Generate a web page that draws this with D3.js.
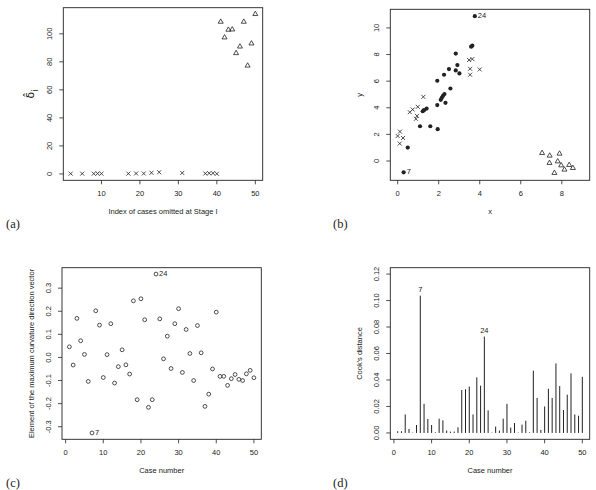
<!DOCTYPE html>
<html>
<head>
<meta charset="utf-8">
<script src="https://cdn.jsdelivr.net/npm/d3@7"></script>
<style>
  body { margin: 0; background: #fff; }
  text { font-family: "Liberation Sans", Arial, sans-serif; fill: #222; }
  .letter { font-family: "Liberation Serif", "DejaVu Serif", serif; font-size: 12.5px; }
</style>
</head>
<body>
<svg width="596" height="490"></svg>
<script>
// (a) delta_i by index of omitted case
const aCrossX = [2, 5, 8, 9, 10, 17, 19, 21, 23, 25, 31, 37, 38, 39, 40];
const aCrossY = [0.2, 0.2, 0.2, 0.3, 0.2, 0.2, 0.3, 0.3, 0.8, 1.2, 0.7, 0.3, 0.5, 0.5, 0.1];
const aTriX = [41, 42, 43, 44, 45, 46, 47, 48, 49, 50];
const aTriY = [108.6, 97.4, 102.9, 103.1, 86.2, 90.9, 108.6, 77.3, 93.1, 114.1];
const aTicksX = [10, 20, 30, 40, 50];
const aTicksY = [0, 20, 40, 60, 80, 100];

// (b) the data, three groups
const bDotX = [3.76, 3.64, 3.58, 2.83, 2.91, 2.83, 3.01, 2.50, 2.26, 1.93, 2.57, 2.28, 2.21, 2.15, 2.10, 2.33, 1.93, 1.41, 1.28, 1.22, 1.09, 1.59, 1.95, 0.49, 0.29];
const bDotY = [10.88, 8.67, 8.59, 8.07, 7.21, 6.81, 6.58, 6.91, 6.48, 6.03, 5.45, 5.03, 4.90, 4.75, 4.60, 4.37, 4.20, 3.94, 3.82, 3.74, 2.61, 2.61, 2.39, 1.01, -0.85];
const bLabelText = ["24", "7"];
const bLabelIdx = [0, 24];
const bCrossX = [3.48, 3.64, 3.53, 4.00, 3.53, 1.25, 0.98, 0.73, 0.59, 0.94, 0.89, 0.11, 0.00, 0.26, 0.10];
const bCrossY = [7.59, 7.66, 6.93, 6.88, 6.48, 4.82, 4.07, 3.87, 3.67, 3.39, 3.17, 2.21, 1.88, 1.73, 1.31];
const bTriX = [7.04, 7.41, 7.89, 7.40, 7.80, 7.97, 8.36, 8.13, 8.54, 7.64];
const bTriY = [0.60, 0.40, 0.55, -0.15, -0.03, -0.33, -0.30, -0.65, -0.53, -0.90];
const bTicksX = [0, 2, 4, 6, 8];
const bTicksY = [0, 2, 4, 6, 8, 10];

// (c) max curvature direction, cases 1..50
const curvature = [0.046, -0.033, 0.169, 0.072, 0.013, -0.104, -0.327, 0.202, 0.140, -0.087,
  0.012, 0.146, -0.111, -0.040, 0.033, -0.032, -0.072, 0.245, -0.183, 0.254,
  0.163, -0.216, -0.183, 0.361, 0.167, -0.006, 0.092, -0.048, 0.146, 0.211,
  -0.065, 0.121, 0.017, -0.100, 0.138, 0.020, -0.212, -0.159, -0.050, 0.196,
  -0.082, -0.082, -0.121, -0.092, -0.074, -0.095, -0.100, -0.071, -0.056, -0.088];
const cTicksX = [0, 10, 20, 30, 40, 50];
const cTicksY = [-0.3, -0.2, -0.1, 0, 0.1, 0.2, 0.3];

// (d) Cook's distance, cases 1..50
const cooks = [0.0013, 0.0013, 0.014, 0.003, 0.0003, 0.006, 0.1037, 0.022, 0.0105, 0.006,
  0.0005, 0.0108, 0.0095, 0.0018, 0.001, 0.001, 0.0043, 0.0324, 0.033, 0.035,
  0.014, 0.042, 0.0357, 0.0728, 0.017, 0.0003, 0.0048, 0.0018, 0.0108, 0.022,
  0.004, 0.0075, 0.0003, 0.0063, 0.0093, 0.0005, 0.047, 0.0264, 0.0023, 0.020,
  0.0334, 0.0264, 0.0525, 0.0354, 0.0173, 0.0289, 0.045, 0.014, 0.013, 0.0424];
const dTicksX = [0, 10, 20, 30, 40, 50];
const dTicksY = [0, 0.02, 0.04, 0.06, 0.08, 0.10, 0.12];
const labelCases = [7, 24];

const svg = d3.select("svg");
const ink = "#222";

// R-style limits: 4% extra on each side
function pad(lo, hi) {
  const e = (hi - lo) * 0.04;
  return [lo - e, hi + e];
}

// one panel: box, ticks, tick labels
function panel(box, xDom, yDom, xTicks, yTicks, fx, fy) {
  const x = d3.scaleLinear().domain(xDom).range([box.l, box.r]);
  const y = d3.scaleLinear().domain(yDom).range([box.b, box.t]);
  const g = svg.append("g");

  g.append("rect")
    .attr("x", box.l).attr("y", box.t)
    .attr("width", box.r - box.l).attr("height", box.b - box.t)
    .attr("fill", "none").attr("stroke", ink).attr("stroke-width", 0.9);

  g.selectAll(".xt").data(xTicks).join("line")
    .attr("x1", d => x(d)).attr("x2", d => x(d))
    .attr("y1", box.b).attr("y2", box.b + 4)
    .attr("stroke", ink).attr("stroke-width", 0.8);
  g.selectAll(".xl").data(xTicks).join("text")
    .attr("x", d => x(d)).attr("y", box.b + 14)
    .attr("text-anchor", "middle").attr("dominant-baseline", "middle")
    .style("font-size", "7.5px")
    .text(fx);

  g.selectAll(".yt").data(yTicks).join("line")
    .attr("x1", box.l - 4).attr("x2", box.l)
    .attr("y1", d => y(d)).attr("y2", d => y(d))
    .attr("stroke", ink).attr("stroke-width", 0.8);
  g.selectAll(".yl").data(yTicks).join("text")
    .attr("transform", d => `translate(${box.l - 13},${y(d)}) rotate(-90)`)
    .attr("text-anchor", "middle").attr("dominant-baseline", "middle")
    .style("font-size", "7.5px")
    .text(fy);

  return { g, x, y };
}

function xLabel(box, txt) {
  svg.append("text")
    .attr("x", (box.l + box.r) / 2).attr("y", box.b + 32)
    .attr("text-anchor", "middle").attr("dominant-baseline", "middle")
    .style("font-size", "7.5px").text(txt);
}
function yLabel(box, txt) {
  return svg.append("text")
    .attr("transform", `translate(${box.l - 30},${(box.t + box.b) / 2}) rotate(-90)`)
    .attr("text-anchor", "middle").attr("dominant-baseline", "middle")
    .style("font-size", "7.5px").text(txt);
}
function letter(x, y, txt) {
  svg.append("text").attr("class", "letter").attr("x", x).attr("y", y).text(txt);
}

// markers
const crossPath = "M-2,-2L2,2M-2,2L2,-2";
const triPath = "M0,-2.9L2.5,1.45L-2.5,1.45Z";

function marks(p, xs, ys, path) {
  p.g.selectAll(null).data(xs).join("path")
    .attr("transform", (d, i) => `translate(${p.x(d)},${p.y(ys[i])})`)
    .attr("d", path)
    .attr("fill", "none").attr("stroke", ink).attr("stroke-width", 0.8);
}

// ---- (a)
const boxA = { l: 63.3, r: 262.7, t: 7.7, b: 180.3 };
const pa = panel(boxA, pad(2, 50), pad(0, 114.1), aTicksX, aTicksY, d => d, d => d);
marks(pa, aCrossX, aCrossY, crossPath);
marks(pa, aTriX, aTriY, triPath);
xLabel(boxA, "Index of cases omitted at Stage I");
const da = svg.append("text")
  .attr("transform", `translate(${boxA.l - 32},${(boxA.t + boxA.b) / 2}) rotate(-90)`)
  .attr("text-anchor", "middle").attr("dominant-baseline", "middle")
  .style("font-family", "DejaVu Sans").style("font-size", "11px");
da.append("tspan").text("\u03B4\u0302");
da.append("tspan").attr("baseline-shift", "sub").style("font-size", "8px").text("i");
letter(6, 228, "(a)");

// ---- (b)
const boxB = { l: 390.3, r: 589.7, t: 9.3, b: 180.3 };
const pb = panel(boxB, pad(0, 9), [-1.45, 11.4], bTicksX, bTicksY, d => d, d => d);
pb.g.selectAll(null).data(bDotX).join("circle")
  .attr("cx", d => pb.x(d)).attr("cy", (d, i) => pb.y(bDotY[i]))
  .attr("r", 2.1).attr("fill", ink);
marks(pb, bCrossX, bCrossY, crossPath);
marks(pb, bTriX, bTriY, triPath);
pb.g.selectAll(null).data(bLabelIdx).join("text")
  .attr("x", d => pb.x(bDotX[d]) + 3).attr("y", d => pb.y(bDotY[d]))
  .attr("dominant-baseline", "middle").style("font-size", "7.5px")
  .text((d, i) => bLabelText[i]);
xLabel(boxB, "x");
yLabel(boxB, "y");
letter(333, 228, "(b)");

// ---- (c)
const cases = d3.range(1, 51);
const boxC = { l: 62, r: 261.3, t: 267.7, b: 439.3 };
const pc = panel(boxC, pad(1, 50), pad(d3.min(curvature), d3.max(curvature)),
  cTicksX, cTicksY, d => d, d => d.toFixed(1));
pc.g.selectAll(null).data(curvature).join("circle")
  .attr("cx", (d, i) => pc.x(cases[i])).attr("cy", d => pc.y(d))
  .attr("r", 1.9).attr("fill", "none").attr("stroke", ink).attr("stroke-width", 0.8);
pc.g.selectAll(null).data(labelCases).join("text")
  .attr("x", d => pc.x(d) + 3).attr("y", d => pc.y(curvature[d - 1]))
  .attr("dominant-baseline", "middle").style("font-size", "7.5px")
  .text(d => d);
xLabel(boxC, "Case number");
yLabel(boxC, "Element of the maximum curvature direction vector");
letter(6, 487, "(c)");

// ---- (d)
const boxD = { l: 390.3, r: 589.7, t: 267.7, b: 439.3 };
const pd = panel(boxD, pad(1, 50), pad(0, 0.12), dTicksX, dTicksY, d => d, d => d.toFixed(2));
pd.g.selectAll(null).data(cooks).join("line")
  .attr("x1", (d, i) => pd.x(cases[i])).attr("x2", (d, i) => pd.x(cases[i]))
  .attr("y1", pd.y(0)).attr("y2", d => pd.y(d))
  .attr("stroke", ink).attr("stroke-width", 1);
pd.g.selectAll(null).data(labelCases).join("text")
  .attr("x", d => pd.x(d)).attr("y", d => pd.y(cooks[d - 1]) - 3.5)
  .attr("text-anchor", "middle").style("font-size", "7.5px")
  .text(d => d);
xLabel(boxD, "Case number");
yLabel(boxD, "Cook's distance");
letter(333, 487, "(d)");
</script>
</body>
</html>
